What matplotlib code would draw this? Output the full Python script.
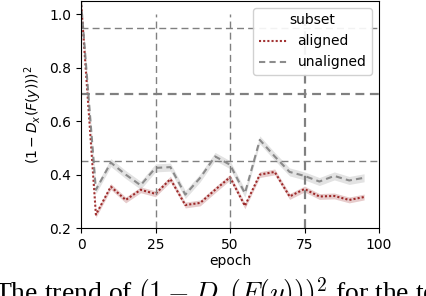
import matplotlib
matplotlib.use("Agg")
import matplotlib.pyplot as plt
import numpy as np

epochs = [0, 5, 10, 15, 20, 25, 30, 35, 40, 45, 50, 55, 60, 65, 70, 75, 80, 85, 90, 95]
aligned = [1.05, 0.25, 0.355, 0.305, 0.343, 0.328, 0.383, 0.286, 0.294, 0.343,
           0.39, 0.283, 0.40, 0.41, 0.318, 0.346, 0.318, 0.32, 0.305, 0.316]
unaligned = [1.05, 0.343, 0.445, 0.40, 0.36, 0.425, 0.428, 0.325, 0.388, 0.468,
             0.437, 0.33, 0.53, 0.468, 0.41, 0.395, 0.374, 0.395, 0.378, 0.388]
aligned_err = 0.011
unaligned_err = 0.015
hlines = [0.95, 0.70, 0.45]
vlines = [25, 50, 75]
xticks = [0, 25, 50, 75, 100]
yticks = [0.2, 0.4, 0.6, 0.8, 1.0]

fig = plt.figure(figsize=(4.26, 2.96), dpi=100)
ax = fig.add_axes([81/426, 1 - 228/296, 298/426, 227/296])

x = np.array(epochs)
a = np.array(aligned)
u = np.array(unaligned)

ax.fill_between(x, a - aligned_err, a + aligned_err, color="darkred", alpha=0.2, lw=0)
ax.fill_between(x, u - unaligned_err, u + unaligned_err, color="gray", alpha=0.22, lw=0)
ax.plot(x, a, color="darkred", ls=(0, (1, 1)), lw=1.5, label="aligned", alpha=0.8)
ax.plot(x, u, color="gray", ls=(0, (3, 2)), lw=1.5, label="unaligned", alpha=0.9)

ax.set_xlim(0, 100)
ax.set_ylim(0.2, 1.05)
top_frac = (1.0 - 0.2) / (1.05 - 0.2)
ax.axhline(hlines[0], color="gray", ls=(0, (5, 3)), lw=1.0)
ax.axhline(hlines[1], color="gray", ls=(0, (4, 2.5)), lw=1.6)
ax.axhline(hlines[2], color="gray", ls=(0, (5, 3)), lw=1.0)
ax.axvline(vlines[0], ymax=top_frac, color="gray", ls=(0, (5, 3)), lw=1.0)
ax.axvline(vlines[1], ymax=top_frac, color="gray", ls=(0, (5, 3)), lw=1.0)
ax.axvline(vlines[2], ymax=top_frac, color="gray", ls=(0, (4, 2.5)), lw=1.6)

ax.set_xticks(xticks)
ax.set_xticklabels([str(t) for t in xticks])
ax.set_yticks(yticks)
ax.set_yticklabels([f"{t:.1f}" for t in yticks])
ax.tick_params(labelsize=10)
ax.set_xlabel("epoch", fontsize=10, labelpad=2)
ax.set_ylabel(r"$(1-D_x(F(y)))^2$", fontsize=10, labelpad=4)

leg = ax.legend(title="subset", loc="upper right", fontsize=10, title_fontsize=10,
                framealpha=0.9, handlelength=2.0)
leg.set_zorder(5)

fig.text(-0.015, -0.02, r"The trend of $(1-D_x(F(y)))^2$ for the te",
         fontsize=20, family="Liberation Serif", math_fontfamily="cm",
         ha="left", va="baseline")

fig.savefig("out.png", dpi=100)
